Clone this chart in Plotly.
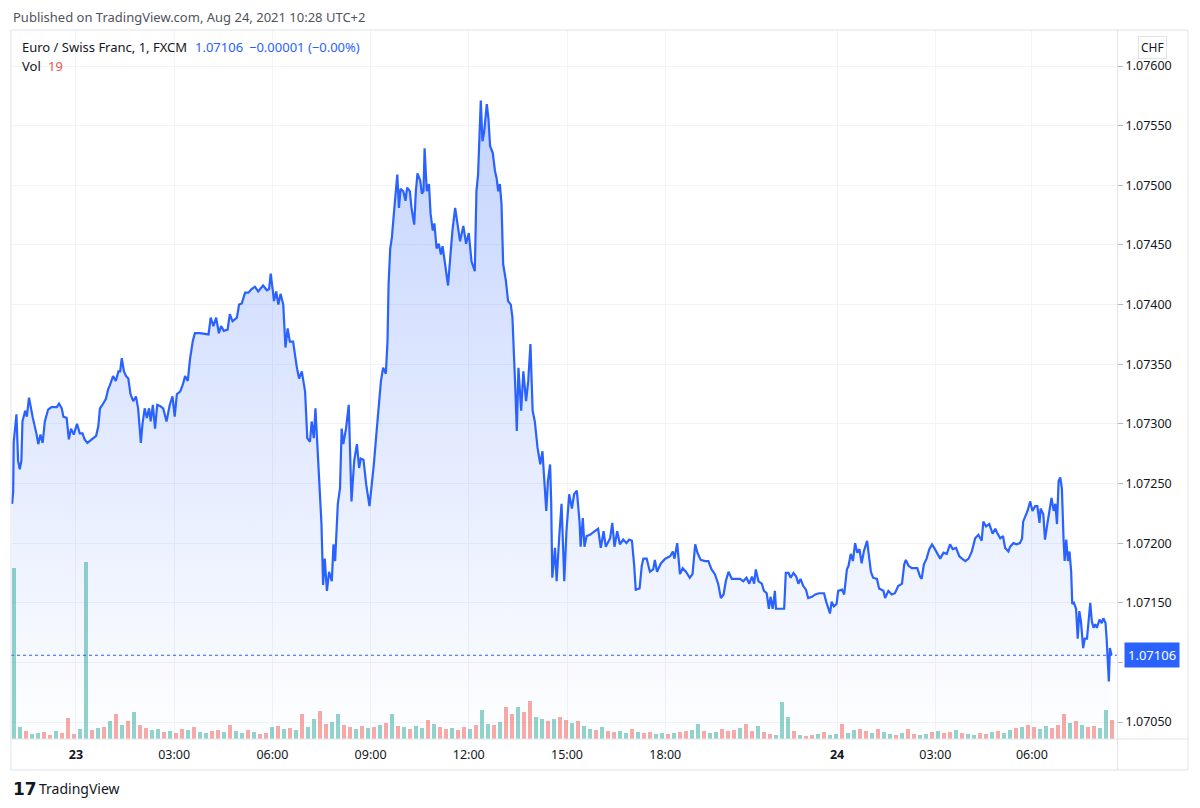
import plotly.graph_objects as go

# 1-minute bars, x = bar number counted from Aug 23 00:00
bar = [
    -117, -115, -114, -109, -106, -103, -100, -98, -93, -90,
    -86, -83, -79, -72, -69, -65, -61, -57, -51, -45,
    -35, -31, -26, -23, -17, -13, -9, -4, 2, 7,
    12, 16, 21, 29, 37, 41, 44, 50, 55, 59,
    62, 68, 73, 78, 81, 84, 88, 92, 96, 100,
    105, 110, 114, 119, 122, 126, 130, 134, 137, 141,
    145, 149, 154, 160, 166, 172, 177, 181, 185, 191,
    196, 200, 205, 209, 214, 218, 227, 243, 247, 252,
    257, 262, 266, 271, 278, 282, 287, 295, 299, 304,
    310, 316, 322, 328, 334, 343, 350, 354, 357, 361,
    363, 367, 371, 375, 380, 384, 388, 392, 398, 405,
    409, 414, 420, 424, 429, 432, 436, 439, 442, 446,
    450, 453, 456, 460, 464, 469, 472, 475, 480, 484,
    487, 490, 495, 500, 505, 510, 515, 519, 522, 527,
    532, 538, 542, 546, 550, 554, 559, 563, 568, 571,
    573, 576, 579, 583, 587, 589, 592, 595, 600, 604,
    607, 612, 615, 620, 623, 626, 631, 634, 637, 639,
    643, 647, 650, 654, 657, 661, 665, 669, 672, 676,
    682, 687, 690, 695, 699, 704, 710, 715, 720, 725,
    731, 734, 737, 742, 745, 748, 753, 756, 759, 764,
    768, 771, 774, 777, 780, 783, 788, 792, 797, 800,
    805, 808, 811, 816, 820, 825, 829, 833, 837, 841,
    846, 851, 855, 858, 862, 865, 869, 871, 873, 878,
    881, 886, 890, 895, 899, 904, 909, 913, 918, 923,
    925, 929, 932, 936, 942, 951, 957, 962, 967, 971,
    979, 983, 987, 992, 997, 1003, 1009, 1014, 1019, 1023,
    1026, 1033, 1037, 1040, 1046, 1052, 1058, 1061, 1065, 1072,
    1080, 1089, 1094, 1097, 1102, 1107, 1112, 1118, 1125, 1130,
    1135, 1139, 1145, 1153, 1159, 1165, 1171, 1177, 1182, 1187,
    1191, 1196, 1202, 1211, 1217, 1223, 1229, 1234, 1239, 1243,
    1246, 1251, 1257, 1261, 1266, 1270, 1273, 1277, 1281, 1283,
    1290, 1298, 1301, 1306, 1310, 1315, 1320, 1324, 1328, 1333,
    1338, 1342, 1349, 1355, 1362, 1371, 1375, 1379, 1382, 1385,
    1389, 1394, 1397, 1404, 1408, 1413, 1416, 1420, 1424, 1428,
    1432, 1436, 1440, 1444, 1450, 1454, 1457, 1461, 1468, 1472,
    1480, 1483, 1489, 1495, 1501, 1507, 1514, 1518, 1521, 1526,
    1532, 1538, 1542, 1547, 1550, 1554, 1559, 1564, 1569, 1573,
    1578, 1584, 1590, 1596, 1602, 1607, 1613, 1619, 1624, 1630,
    1636, 1642, 1648, 1654, 1660, 1663, 1668, 1674, 1680, 1685,
    1689, 1694, 1699, 1703, 1709, 1712, 1718, 1724, 1730, 1734,
    1736, 1741, 1744, 1749, 1753, 1758, 1762, 1766, 1768, 1773,
    1776, 1781, 1785, 1788, 1792, 1795, 1798, 1801, 1804, 1807,
    1810, 1812, 1815, 1818, 1821, 1824, 1826, 1829, 1833, 1836,
    1839, 1842, 1846, 1849, 1853, 1856, 1859, 1862, 1865, 1868,
    1871, 1876, 1880, 1883, 1887, 1889, 1891, 1893, 1895, 1898,
]

close = [
    1.07233, 1.07243, 1.07285, 1.07308, 1.07269, 1.07262, 1.07269, 1.07302, 1.07311, 1.07306,
    1.07322, 1.07313, 1.07305, 1.07291, 1.07283, 1.07291, 1.07284, 1.07302, 1.07312, 1.07314,
    1.07314, 1.07317, 1.07313, 1.07306, 1.07305, 1.07287, 1.07296, 1.07291, 1.07300, 1.07292,
    1.07292, 1.07287, 1.07284, 1.07287, 1.07290, 1.07298, 1.07313, 1.07317, 1.07321, 1.07329,
    1.07332, 1.07340, 1.07336, 1.07344, 1.07344, 1.07355, 1.07344, 1.07340, 1.07338, 1.07325,
    1.07319, 1.07323, 1.07313, 1.07284, 1.07300, 1.07313, 1.07305, 1.07313, 1.07302, 1.07316,
    1.07296, 1.07316, 1.07315, 1.07313, 1.07302, 1.07316, 1.07323, 1.07306, 1.07325, 1.07327,
    1.07333, 1.07340, 1.07336, 1.07354, 1.07369, 1.07376, 1.07376, 1.07375, 1.07389, 1.07382,
    1.07389, 1.07376, 1.07382, 1.07378, 1.07379, 1.07392, 1.07386, 1.07389, 1.07400, 1.07401,
    1.07410, 1.07410, 1.07413, 1.07415, 1.07411, 1.07416, 1.07412, 1.07413, 1.07426, 1.07411,
    1.07403, 1.07411, 1.07400, 1.07409, 1.07400, 1.07364, 1.07380, 1.07369, 1.07369, 1.07347,
    1.07338, 1.07344, 1.07327, 1.07288, 1.07285, 1.07302, 1.07288, 1.07313, 1.07285, 1.07243,
    1.07216, 1.07165, 1.07187, 1.07160, 1.07176, 1.07168, 1.07199, 1.07185, 1.07233, 1.07246,
    1.07296, 1.07283, 1.07296, 1.07316, 1.07235, 1.07269, 1.07283, 1.07263, 1.07271, 1.07270,
    1.07249, 1.07231, 1.07246, 1.07266, 1.07288, 1.07311, 1.07336, 1.07347, 1.07342, 1.07369,
    1.07417, 1.07447, 1.07456, 1.07478, 1.07495, 1.07509, 1.07481, 1.07497, 1.07495, 1.07487,
    1.07498, 1.07495, 1.07481, 1.07467, 1.07495, 1.07510, 1.07504, 1.07493, 1.07495, 1.07531,
    1.07495, 1.07501, 1.07476, 1.07462, 1.07468, 1.07447, 1.07451, 1.07442, 1.07449, 1.07434,
    1.07416, 1.07445, 1.07462, 1.07481, 1.07467, 1.07453, 1.07466, 1.07451, 1.07460, 1.07436,
    1.07428, 1.07495, 1.07509, 1.07571, 1.07537, 1.07544, 1.07568, 1.07556, 1.07533, 1.07527,
    1.07512, 1.07506, 1.07495, 1.07501, 1.07484, 1.07434, 1.07420, 1.07403, 1.07400, 1.07389,
    1.07333, 1.07294, 1.07347, 1.07311, 1.07344, 1.07319, 1.07336, 1.07367, 1.07311, 1.07302,
    1.07280, 1.07266, 1.07277, 1.07254, 1.07227, 1.07252, 1.07266, 1.07235, 1.07171, 1.07196,
    1.07168, 1.07207, 1.07233, 1.07168, 1.07210, 1.07241, 1.07229, 1.07241, 1.07244, 1.07218,
    1.07197, 1.07221, 1.07197, 1.07206, 1.07207, 1.07210, 1.07212, 1.07196, 1.07210, 1.07197,
    1.07204, 1.07217, 1.07197, 1.07210, 1.07199, 1.07203, 1.07200, 1.07203, 1.07202, 1.07182,
    1.07161, 1.07162, 1.07181, 1.07187, 1.07187, 1.07176, 1.07178, 1.07186, 1.07176, 1.07183,
    1.07187, 1.07189, 1.07193, 1.07187, 1.07200, 1.07174, 1.07179, 1.07176, 1.07171, 1.07174,
    1.07199, 1.07192, 1.07186, 1.07185, 1.07185, 1.07178, 1.07174, 1.07166, 1.07154, 1.07157,
    1.07168, 1.07176, 1.07170, 1.07170, 1.07170, 1.07168, 1.07171, 1.07166, 1.07172, 1.07166,
    1.07178, 1.07168, 1.07166, 1.07160, 1.07158, 1.07145, 1.07155, 1.07145, 1.07160, 1.07145,
    1.07145, 1.07145, 1.07175, 1.07175, 1.07171, 1.07175, 1.07172, 1.07166, 1.07170, 1.07164,
    1.07161, 1.07154, 1.07155, 1.07157, 1.07158, 1.07158, 1.07151, 1.07145, 1.07141, 1.07151,
    1.07147, 1.07149, 1.07160, 1.07161, 1.07157, 1.07178, 1.07181, 1.07191, 1.07185, 1.07200,
    1.07192, 1.07195, 1.07183, 1.07193, 1.07202, 1.07187, 1.07176, 1.07171, 1.07170, 1.07162,
    1.07160, 1.07154, 1.07160, 1.07157, 1.07158, 1.07164, 1.07166, 1.07182, 1.07186, 1.07181,
    1.07179, 1.07179, 1.07179, 1.07172, 1.07170, 1.07182, 1.07187, 1.07195, 1.07199, 1.07196,
    1.07192, 1.07187, 1.07192, 1.07191, 1.07199, 1.07195, 1.07196, 1.07189, 1.07187, 1.07185,
    1.07187, 1.07193, 1.07204, 1.07207, 1.07202, 1.07218, 1.07214, 1.07216, 1.07208, 1.07212,
    1.07208, 1.07204, 1.07206, 1.07196, 1.07193, 1.07197, 1.07200, 1.07199, 1.07200, 1.07204,
    1.07218, 1.07223, 1.07227, 1.07235, 1.07227, 1.07231, 1.07231, 1.07217, 1.07229, 1.07224,
    1.07203, 1.07218, 1.07228, 1.07238, 1.07227, 1.07233, 1.07216, 1.07252, 1.07255, 1.07246,
    1.07204, 1.07185, 1.07203, 1.07185, 1.07193, 1.07176, 1.07149, 1.07150, 1.07145, 1.07120,
    1.07143, 1.07134, 1.07112, 1.07120, 1.07120, 1.07134, 1.07150, 1.07134, 1.07129, 1.07132,
    1.07129, 1.07136, 1.07133, 1.07137, 1.07133, 1.07120, 1.07101, 1.07084, 1.07112, 1.07106,
]

# volume, one value per 11-bar slot starting at bar -114
vol_start = -114
vol_step = 11
volume = [
    171, 12, 8, 5, 6, 7, 4, 8, 6, 21,
    5, 10, 177, 9, 11, 12, 18, 25, 14, 18,
    27, 14, 11, 9, 10, 7, 8, 6, 10, 9,
    12, 7, 6, 8, 9, 7, 14, 8, 6, 9,
    7, 5, 6, 12, 13, 10, 11, 9, 25, 12,
    20, 28, 15, 17, 25, 14, 12, 10, 13, 11,
    12, 14, 16, 25, 13, 12, 10, 13, 11, 19,
    15, 12, 10, 11, 9, 12, 10, 14, 29, 15,
    14, 17, 32, 25, 32, 27, 38, 22, 20, 18,
    20, 22, 19, 16, 18, 13, 10, 9, 12, 8,
    7, 8, 6, 10, 7, 6, 7, 5, 6, 5,
    6, 7, 8, 9, 15, 8, 6, 7, 10, 8,
    9, 11, 15, 8, 13, 7, 5, 4, 37, 22,
    8, 4, 3, 4, 5, 7, 4, 5, 15, 6,
    9, 10, 8, 6, 10, 7, 5, 4, 6, 10,
    5, 4, 5, 7, 8, 6, 7, 9, 6, 5,
    4, 6, 5, 7, 8, 6, 9, 11, 12, 14,
    12, 10, 13, 11, 14, 25, 16, 18, 14, 12,
    13, 11, 29, 19,
]
vol_dir = ("uuduuddudd" "duudududud" "udduududdu" "duudduduud" "uddudududu"
           "udduuddudu" "dudududuud" "uddudduduu" "duddudduud" "udduduudud"
           "duududduud" "udduuduudd" "duddudduuu" "dudduduudu" "udduduudud"
           "duududdudu" "udduduudud" "duudddudud" "duud")

tick_bars = [0, 180, 360, 540, 720, 900, 1080, 1395, 1575, 1752]
tick_labels = ["<b>23</b>", "03:00", "06:00", "09:00", "12:00", "15:00", "18:00",
               "<b>24</b>", "03:00", "06:00"]
price_ticks = [1.0705, 1.0710, 1.0715, 1.0720, 1.0725, 1.0730, 1.0735, 1.0740,
               1.0745, 1.0750, 1.0755, 1.0760]

last_price = close[-1]
FONT = "Noto Sans"
BLUE = "#2962ff"
GRID = "#f0f3fa"
BORDER = "#e0e3eb"

vol_bar = [vol_start + vol_step * i for i in range(len(volume))]
vol_col = ["rgba(38,166,154,0.5)" if d == "u" else "rgba(239,83,80,0.5)" for d in vol_dir]

fig = go.Figure()

fig.add_trace(go.Scatter(
    x=bar, y=close, mode="lines", line=dict(color=BLUE, width=2.2),
    fill="tozeroy",
    fillgradient=dict(type="vertical", start=1.0703, stop=1.0758,
                      colorscale=[[0, "rgba(41,98,255,0.0)"], [1, "rgba(41,98,255,0.28)"]]),
    showlegend=False, hoverinfo="skip",
))

fig.add_trace(go.Bar(
    x=vol_bar, y=volume, marker=dict(color=vol_col, line=dict(width=0)),
    width=8, yaxis="y2", showlegend=False, hoverinfo="skip",
))

# last price line
fig.add_hline(y=last_price, line=dict(color=BLUE, width=1, dash="dot"))

fig.update_layout(
    width=1200, height=808, autosize=False,
    margin=dict(l=11, r=83, t=30, b=69),
    paper_bgcolor="white", plot_bgcolor="white",
    font=dict(family=FONT, size=12, color="#131722"),
    bargap=0,
    xaxis=dict(
        range=[-119, 1908], tickvals=tick_bars, ticktext=tick_labels,
        showgrid=True, gridcolor=GRID, zeroline=False, showline=False,
        ticks="", ticklabelstandoff=6, tickfont=dict(size=12.5, color="#131722"),
    ),
    yaxis=dict(
        side="right", range=[1.070358, 1.076302], tickvals=price_ticks,
        ticktext=[f"{v:.5f}" for v in price_ticks],
        showgrid=True, gridcolor=GRID, zeroline=False, showline=False,
        ticks="outside", ticklen=5, tickcolor="#b2b5be",
        tickfont=dict(size=12.5, color="#131722"),
    ),
    yaxis2=dict(overlaying="y", range=[0, 709], visible=False),
)

# chart frame and pane separators
fig.add_shape(type="rect", xref="paper", yref="paper", x0=0, x1=1.0642, y0=-0.0437, y1=1,
              line=dict(color=BORDER, width=1), layer="above")
fig.add_shape(type="line", xref="paper", yref="paper", x0=0, x1=1.0642, y0=0, y1=0,
              line=dict(color=BORDER, width=1), layer="above")
fig.add_shape(type="line", xref="paper", yref="paper", x0=1.0005, x1=1.0005, y0=-0.0437, y1=1,
              line=dict(color=BORDER, width=1), layer="above")

ann = dict(xref="paper", yref="paper", showarrow=False, xanchor="left", yanchor="middle")
fig.add_annotation(text="Published on TradingView.com, Aug 24, 2021 10:28 UTC+2",
                   x=0, y=1.0183, font=dict(size=13, color="#50535e"), **ann)
fig.add_annotation(text="Euro / Swiss Franc, 1, FXCM", x=0.0081, y=0.976,
                   font=dict(size=13, color="#131722"), **ann)
fig.add_annotation(text=f"{last_price:.5f}", x=0.1646, y=0.976,
                   font=dict(size=13, color=BLUE), **ann)
fig.add_annotation(text="\u22120.00001 (\u22120.00%)", x=0.2134, y=0.976,
                   font=dict(size=13, color=BLUE), **ann)
fig.add_annotation(text="Vol", x=0.0081, y=0.949, font=dict(size=13, color="#131722"), **ann)
fig.add_annotation(text=str(volume[-1]), x=0.0316, y=0.949, font=dict(size=13, color="#ef5350"), **ann)

fig.add_annotation(text="CHF", xref="paper", yref="paper", x=1.0325, y=0.976,
                   xanchor="center", yanchor="middle", showarrow=False,
                   font=dict(size=12, color="#131722"), bgcolor="white",
                   bordercolor=BORDER, borderwidth=1, borderpad=2)

fig.add_annotation(text=f"{last_price:.5f}", xref="paper", yref="y", x=1.0063, y=last_price,
                   xanchor="left", yanchor="middle", showarrow=False,
                   font=dict(size=13, color="white"), bgcolor=BLUE, borderpad=3)

fig.add_annotation(text="<b>17</b>", x=0, y=-0.0705, font=dict(size=17, color="#131722", family="DejaVu Sans"), **ann)
fig.add_annotation(text="TradingView", x=0.0235, y=-0.0705, font=dict(size=14, color="#131722"), **ann)

fig.write_html("out.html", config={"displayModeBar": False},
               post_script="document.body.style.margin='0px';")
